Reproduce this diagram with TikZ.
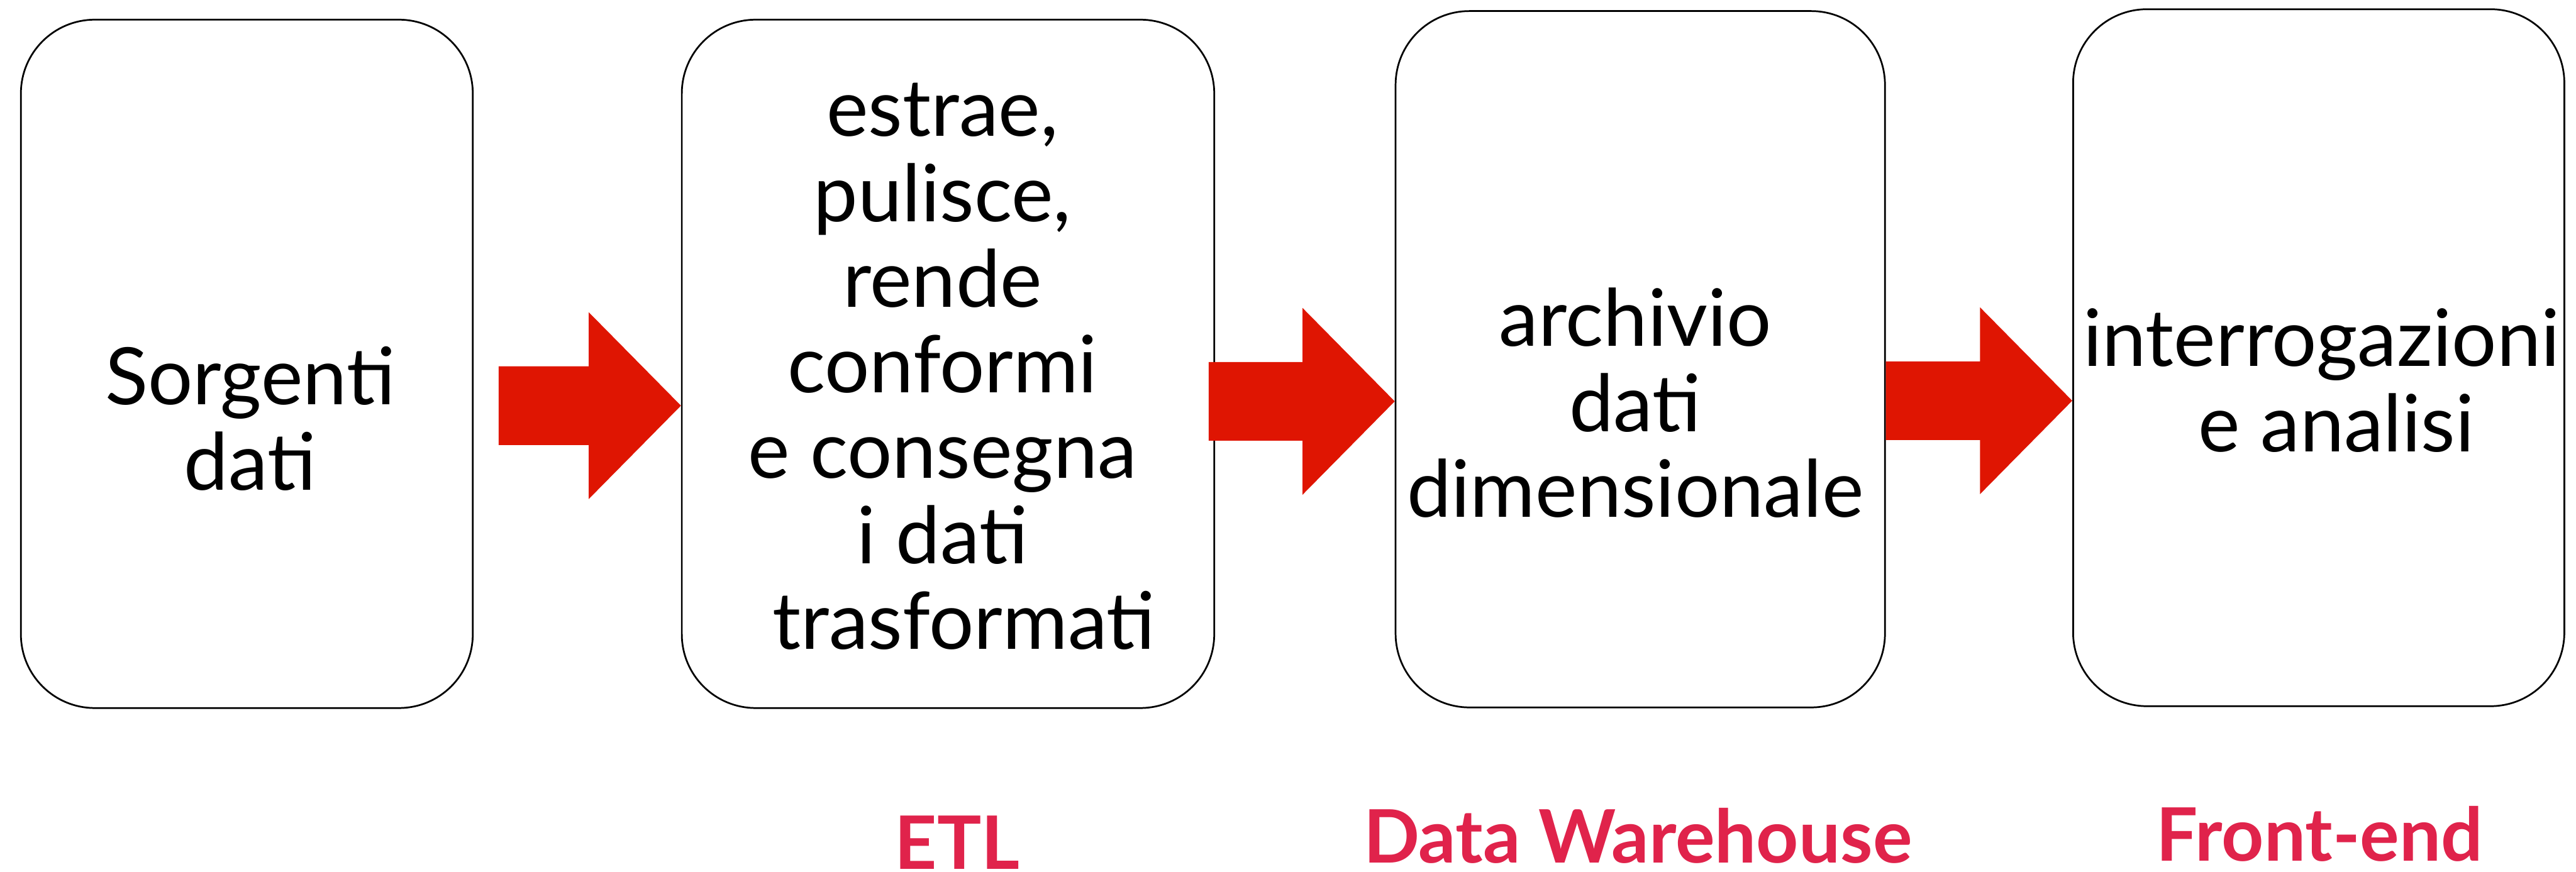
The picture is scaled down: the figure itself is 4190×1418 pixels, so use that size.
\documentclass[tikz,border=0pt]{standalone}
\usepackage{fontspec}
\setmainfont{Lato}
\usetikzlibrary{calc}
\definecolor{arrowred}{HTML}{DF1502}
\definecolor{labelred}{HTML}{E0234B}
\tikzset{
  box/.style={rectangle, draw=black, line width=0.7pt, rounded corners=30pt, inner sep=0pt},
  boxtext/.style={align=center, inner sep=0pt, text=black,
    font=\fontsize{32.2}{34.75}\selectfont},
  stage/.style={anchor=base, inner sep=0pt, text=labelred,
    font=\fontsize{30}{34}\selectfont\bfseries},
  flow/.style={fill=arrowred, draw=none},
}
% block arrow: #1 = start of the shaft, #2 = tip (same height)
\newcommand\blockarrow[2]{%
  \fill[flow] ($(#1)+(0,-64)$) -- ($(#2)+(-150,-64)$) -- ($(#2)+(-150,-152)$)
    -- (#2) -- ($(#2)+(-150,152)$) -- ($(#2)+(-150,64)$) -- ($(#1)+(0,64)$) -- cycle;}
\begin{document}
\begin{tikzpicture}[x=0.25pt,y=-0.25pt]
  \useasboundingbox (0,0) rectangle (4190,1418);
  \clip (0,0) rectangle (4190,1418);

  % stage boxes
  \node[box, minimum width=183.75pt, minimum height=280pt]   (b1) at (401.5,592) {};
  \node[box, minimum width=216.5pt,  minimum height=280pt]   (b2) at (1542,592) {};
  \node[box, minimum width=199pt,    minimum height=283.25pt] (b3) at (2668,584.5) {};
  \node[box, minimum width=199.75pt, minimum height=283.5pt] (b4) at (3771.5,582) {};

  % box contents
  \node[boxtext] (t1) at (407,681) {Sorgenti\\dati};
  \node[boxtext] (t2) at (1533,596) {estrae,\\pulisce,\\rende\\conformi\hspace*{0.4em}\\e consegna\\i dati\\\hspace*{0.54em}trasformati};
  \node[boxtext] (t3) at (2660,655) {archivio\\dati\\dimensionale};
  \node[boxtext] (t4) at (3776,619) {interrogazioni\\\hspace*{0.38em}e analisi};

  % flow arrows between the stages
  \coordinate (h1) at (0,660);
  \coordinate (h2) at (0,653);
  \coordinate (h3) at (0,652);
  \coordinate (a1s) at (811,660);
  \coordinate (a1t) at (b2.west |- h1);
  \coordinate (a2s) at (1966,653);
  \coordinate (a2t) at (b3.west |- h2);
  \coordinate (a3s) at (b3.east |- h3);
  \coordinate (a3t) at (b4.west |- h3);
  \blockarrow{a1s}{a1t}
  \blockarrow{a2s}{a2t}
  \blockarrow{a3s}{a3t}

  % stage names
  \node[stage] (l2) at (1557,1414) {ETL};
  \node[stage] (l3) at (2664,1404) {Data Warehouse};
  \node[stage] (l4) at (3773,1401) {Front-end};
\end{tikzpicture}
\end{document}
